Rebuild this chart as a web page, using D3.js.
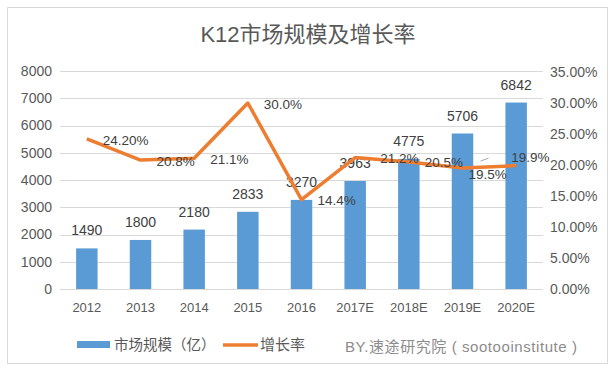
<!DOCTYPE html>
<html>
<head>
	<meta charset="utf-8">
	<title></title>
	<style>
		body { margin: 0; background: #fff; }
		text { font-family: "Liberation Sans", "Noto Sans CJK SC", sans-serif; }
		.grid line { stroke: #d9d9d9; stroke-width: 1; }
		.line { fill: none; stroke: #ED7D31; stroke-width: 3.5; stroke-linejoin: round; }
	</style>
</head>
<body>
	<svg id="container" height="376" width="614"></svg>
</body>
<script src="https://d3js.org/d3.v7.min.js"></script>
<script>
	let years = ["2012", "2013", "2014", "2015", "2016", "2017E", "2018E", "2019E", "2020E"]
	let marketSize = [1490, 1800, 2180, 2833, 3270, 3963, 4775, 5706, 6842]
	let growthRate = [24.2, 20.8, 21.1, 30.0, 14.4, 21.2, 20.5, 19.5, 19.9]
	let growthLabels = ["24.20%", "20.8%", "21.1%", "30.0%", "14.4%", "21.2%", "20.5%", "19.5%", "19.9%"]
	let leftTicks = [0, 1000, 2000, 3000, 4000, 5000, 6000, 7000, 8000]
	let rightTicks = [0, 5, 10, 15, 20, 25, 30, 35]

	let svg = d3.select("#container")

	// chart frame
	svg.append("rect")
		.attr("x", 7.5).attr("y", 7.5)
		.attr("width", 600).attr("height", 356)
		.attr("fill", "#fff")
		.attr("stroke", "#d9d9d9")

	svg.append("text")
		.attr("x", 308).attr("y", 42)
		.attr("text-anchor", "middle")
		.attr("font-size", 22)
		.attr("fill", "#595959")
		.text("K12市场规模及增长率")

	let x = d3.scaleBand()
		.domain(years)
		.range([60, 543])
		.paddingInner(0.6)
		.paddingOuter(0.3)

	let yLeft = d3.scaleLinear().domain([0, 8000]).range([289, 71])
	let yRight = d3.scaleLinear().domain([0, 35]).range([289, 72])

	// gridlines follow the primary axis
	svg.append("g").attr("class", "grid")
		.selectAll("line")
		.data(leftTicks)
		.enter()
		.append("line")
		.attr("x1", 60).attr("x2", 543)
		.attr("y1", d => Math.round(yLeft(d)) + 0.5)
		.attr("y2", d => Math.round(yLeft(d)) + 0.5)

	let leftAxis = d3.axisLeft(yLeft).tickValues(leftTicks).tickSize(0).tickPadding(8)
		.tickFormat(d3.format("d"))
	let gl = svg.append("g").attr("transform", "translate(60,0)").call(leftAxis)
	gl.select(".domain").remove()
	gl.selectAll("text").attr("font-size", 14).attr("fill", "#595959")
		.attr("font-family", "Liberation Sans, sans-serif")

	let rightAxis = d3.axisRight(yRight).tickValues(rightTicks).tickSize(0).tickPadding(7)
		.tickFormat(d => d.toFixed(2) + "%")
	let gr = svg.append("g").attr("transform", "translate(543,0)").call(rightAxis)
	gr.select(".domain").remove()
	gr.selectAll("text").attr("font-size", 14).attr("fill", "#595959")
		.attr("font-family", "Liberation Sans, sans-serif")

	let bottomAxis = d3.axisBottom(x).tickSize(0).tickPadding(14)
	let gb = svg.append("g").attr("transform", "translate(0,289)").call(bottomAxis)
	gb.select(".domain").remove()
	gb.selectAll("text").attr("font-size", 13).attr("fill", "#595959")
		.attr("font-family", "Liberation Sans, sans-serif")

	// bars
	svg.selectAll(".bar")
		.data(marketSize)
		.enter()
		.append("rect")
		.attr("class", "bar")
		.attr("x", (d, i) => x(years[i]))
		.attr("width", x.bandwidth())
		.attr("y", d => yLeft(d))
		.attr("height", d => yLeft(0) - yLeft(d))
		.attr("fill", "#5B9BD5")

	svg.selectAll(".barLabel")
		.data(marketSize)
		.enter()
		.append("text")
		.attr("x", (d, i) => x(years[i]) + x.bandwidth() / 2)
		.attr("y", d => yLeft(d) - 13)
		.attr("text-anchor", "middle")
		.attr("font-size", 14)
		.attr("fill", "#404040")
		.text(d => d)

	// growth line
	let cx = i => x(years[i]) + x.bandwidth() / 2
	let line = d3.line()
		.x((d, i) => cx(i))
		.y(d => yRight(d))

	svg.append("path")
		.datum(growthRate)
		.attr("class", "line")
		.attr("d", line)

	let labelDx = [16, 16, 16, 16, 16, 25, 16, 6, -5]
	let labelDy = [1, 1, 1, 1, 1, 1, 0, 6, -8]

	svg.selectAll(".rateLabel")
		.data(growthRate)
		.enter()
		.append("text")
		.attr("x", (d, i) => cx(i) + labelDx[i])
		.attr("y", (d, i) => yRight(d) + labelDy[i])
		.attr("dy", "0.35em")
		.attr("font-size", 13.5)
		.attr("fill", "#404040")
		.text((d, i) => growthLabels[i])

	// small leader line near 19.5%
	svg.append("line")
		.attr("x1", cx(7) + 18).attr("y1", yRight(growthRate[7]) - 7)
		.attr("x2", cx(7) + 26).attr("y2", yRight(growthRate[7]) - 10)
		.attr("stroke", "#a6a6a6").attr("stroke-width", 1)

	// legend
	let legend = svg.append("g")
	legend.append("rect")
		.attr("x", 77).attr("y", 341).attr("width", 33).attr("height", 7)
		.attr("fill", "#5B9BD5")
	legend.append("text")
		.attr("x", 114).attr("y", 350)
		.attr("font-size", 14.5).attr("fill", "#595959")
		.text("市场规模（亿）")
	legend.append("line")
		.attr("x1", 223).attr("x2", 258).attr("y1", 345).attr("y2", 345)
		.attr("stroke", "#ED7D31").attr("stroke-width", 3.5)
	legend.append("text")
		.attr("x", 260).attr("y", 350)
		.attr("font-size", 15).attr("fill", "#595959")
		.text("增长率")

	svg.append("text")
		.attr("x", 345).attr("y", 352)
		.attr("font-size", 15).attr("fill", "#8c8c8c")
		.attr("textLength", 232)
		.attr("lengthAdjust", "spacing")
		.text("BY.速途研究院 ( sootooinstitute )")
</script>
</html>
